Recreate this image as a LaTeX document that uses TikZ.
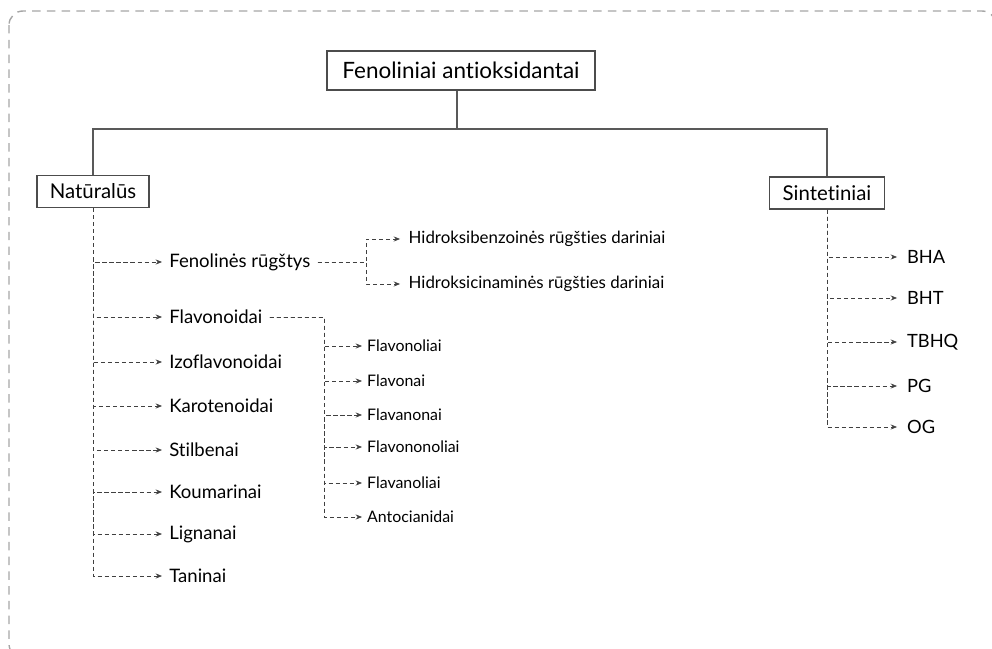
\documentclass[tikz,border=0pt]{standalone}
\usepackage{fontspec}
\setmainfont{Lato}[Ligatures=NoCommon]
\usetikzlibrary{arrows.meta,positioning}

\begin{document}
\begin{tikzpicture}[
    x=0.025cm, y=-0.025cm,
    >={Stealth[length=4.5pt,width=3.6pt]},
    rootbox/.style={
        rectangle, draw=black!70, line width=0.8pt,
        minimum width=6.7cm, minimum height=0.975cm,
        font=\fontsize{16}{18}\selectfont
    },
    groupbox/.style={
        rectangle, draw=black!70, line width=0.8pt,
        minimum height=0.8cm,
        font=\fontsize{14.5}{16}\selectfont
    },
    item/.style={anchor=west, inner xsep=5pt, font=\fontsize{13.2}{15}\selectfont},
    subitem/.style={anchor=west, inner xsep=3.5pt, font=\fontsize{11.3}{13}\selectfont},
    tree/.style={draw=black!65, line width=0.8pt},
    conn/.style={->, draw=black!75, line width=0.5pt, dash pattern=on 3pt off 2pt},
    frame/.style={draw=black!35, line width=1pt, dash pattern=on 6pt off 4.5pt, rounded corners=10pt}
]
    \useasboundingbox (0,0) rectangle (992,649);
    \clip (0,0) rectangle (992,649);
    \draw[frame] (9,11) rectangle (996,658);

    % Nodes
    \node[rootbox] (root) at (461,70.5) {Fenoliniai antioksidantai};
    \node[groupbox, minimum width=2.8cm] (nat) at (93,191.5) {Natūralūs};
    \node[groupbox, minimum width=2.875cm] (sin) at (827,193) {Sintetiniai};

    \node[item] (fen)  at (162,262) {Fenolinės rūgštys};
    \node[item] (flav) at (162,317) {Flavonoidai};
    \node[item] (izo)  at (162,362) {Izoflavonoidai};
    \node[item] (kar)  at (162,406) {Karotenoidai};
    \node[item] (stil) at (162,450) {Stilbenai};
    \node[item] (kou)  at (162,492) {Koumarinai};
    \node[item] (lig)  at (162,534) {Lignanai};
    \node[item] (tan)  at (162,576) {Taninai};

    \node[subitem, inner xsep=6pt, font=\fontsize{12}{14}\selectfont] (hbenz) at (400,239) {Hidroksibenzoinės rūgšties dariniai};
    \node[subitem, inner xsep=6pt, font=\fontsize{12}{14}\selectfont] (hcin)  at (400,284) {Hidroksicinaminės rūgšties dariniai};

    \node[subitem] (fol)  at (362,346) {Flavonoliai};
    \node[subitem] (fon)  at (362,381) {Flavonai};
    \node[subitem] (fan)  at (362,415) {Flavanonai};
    \node[subitem] (fnol) at (362,447) {Flavononoliai};
    \node[subitem] (faol) at (362,483) {Flavanoliai};
    \node[subitem] (ant)  at (362,517) {Antocianidai};

    \node[item, inner xsep=7pt, font=\fontsize{13}{15}\selectfont] (bha)  at (897,257) {BHA};
    \node[item, inner xsep=7pt, font=\fontsize{13}{15}\selectfont] (bht)  at (897,298) {BHT};
    \node[item, inner xsep=7pt, font=\fontsize{13}{15}\selectfont] (tbhq) at (897,342) {TBHQ};
    \node[item, inner xsep=7pt, font=\fontsize{13}{15}\selectfont] (pg)   at (897,386) {PG};
    \node[item, inner xsep=7pt, font=\fontsize{13}{15}\selectfont] (og)   at (897,427) {OG};

    \coordinate (split)  at (457,129);
    \coordinate (fenfork) at (366,262);
    \coordinate (flavfork) at (324,317);

    % Connections
    \draw[tree] (root.south -| split) -- (split);
    \draw[tree] (split) -| (nat.north);
    \draw[tree] (split) -| (sin.north);

    \foreach \n in {fen,flav,izo,kar,stil,kou,lig,tan}
        \draw[conn] (nat.south) |- (\n.west);

    \draw[conn] (fen.east) -- (fenfork) |- (hbenz.west);
    \draw[conn] (fen.east) -- (fenfork) |- (hcin.west);

    \foreach \n in {fol,fon,fan,fnol,faol,ant}
        \draw[conn] (flav.east) -- (flavfork) |- (\n.west);

    \foreach \n in {bha,bht,tbhq,pg,og}
        \draw[conn] (sin.south) |- (\n.west);

\end{tikzpicture}
\end{document}
